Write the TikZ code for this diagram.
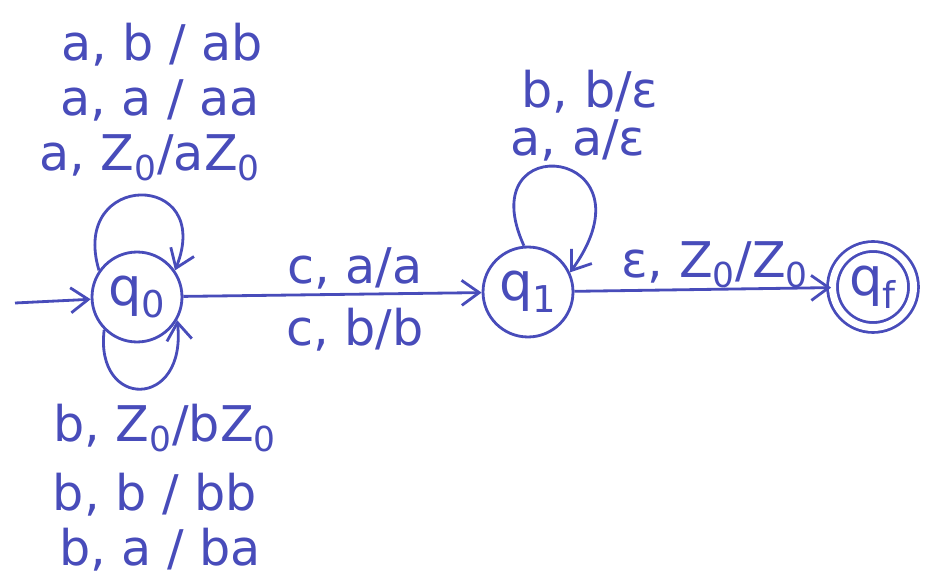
\documentclass[tikz,border=0pt]{standalone}
\usepackage{fontspec}
\setmainfont{DejaVu Sans}
\usepackage{xcolor}
\usetikzlibrary{arrows.meta}
\definecolor{tinte}{RGB}{72,76,186}
\newcommand{\Zn}{Z\textsubscript{0}}

\begin{document}
\begin{tikzpicture}[x=0.02cm,y=0.02cm,
    zustand/.style={circle, draw=tinte, line width=1.6pt, minimum size=1.8cm,
        inner sep=0pt, text=tinte, font=\fontsize{30}{32}\selectfont},
    ende/.style={zustand, minimum size=1.62cm, double, double distance=4pt},
    kante/.style={draw=tinte, line width=1.6pt,
        -{Straight Barb[length=3.5mm,width=5mm]}},
    beschr/.style={text=tinte, inner sep=0pt, font=\fontsize{28}{30}\selectfont}]
\useasboundingbox (0,0) rectangle (928,578);

% =========================================================
% Zustaende
% =========================================================
\node[zustand] (q0) at (137,281) {q\textsubscript{0}};
\node[zustand] (q1) at (528,286) {q\textsubscript{1}};
\node[ende]    (qf) at (873,291) {q\textsubscript{f}};
\coordinate (start) at (15,275);

% =========================================================
% Kanten
% =========================================================
\draw[kante] (start) -- (q0);
\draw[kante] (q0) -- (q1);
\draw[kante] (q1) -- (qf);
% Schleifen an q0 (oben, unten) und q1
\draw[kante] (q0.145) .. controls +(-30,100) and +(40,100) .. (q0.35);
\draw[kante] (q0.225) .. controls +(-10,-80) and +(10,-90) .. (q0.330);
\draw[kante] (q1.95) .. controls +(-55,120) and +(90,125) .. (q1.25);

% =========================================================
% Beschriftungen: Schleife oben an q0
% =========================================================
\node[beschr] (l1) at (162,533) {a, b / ab};
\node[beschr] (l2) at (160,478) {a, a / aa};
\node[beschr] (l3) at (150,420) {a, \Zn/a\Zn};
% Schleife unten an q0
\node[beschr] (l4) at (165,150) {b, \Zn/b\Zn};
\node[beschr] (l5) at (155,83)  {b, b / bb};
\node[beschr] (l6) at (160,28)  {b, a / ba};

% Schleife an q1
\node[beschr] (l7) at (590,486) {b, b/ε};
\node[beschr] (l8) at (578,438) {a, a/ε};

% Uebergaenge
\node[beschr] (l9)  at (355,310) {c, a/a};
\node[beschr] (l10) at (355,248) {c, b/b};
\node[beschr] (l11) at (715,313) {ε, \Zn/\Zn};

\end{tikzpicture}
\end{document}
